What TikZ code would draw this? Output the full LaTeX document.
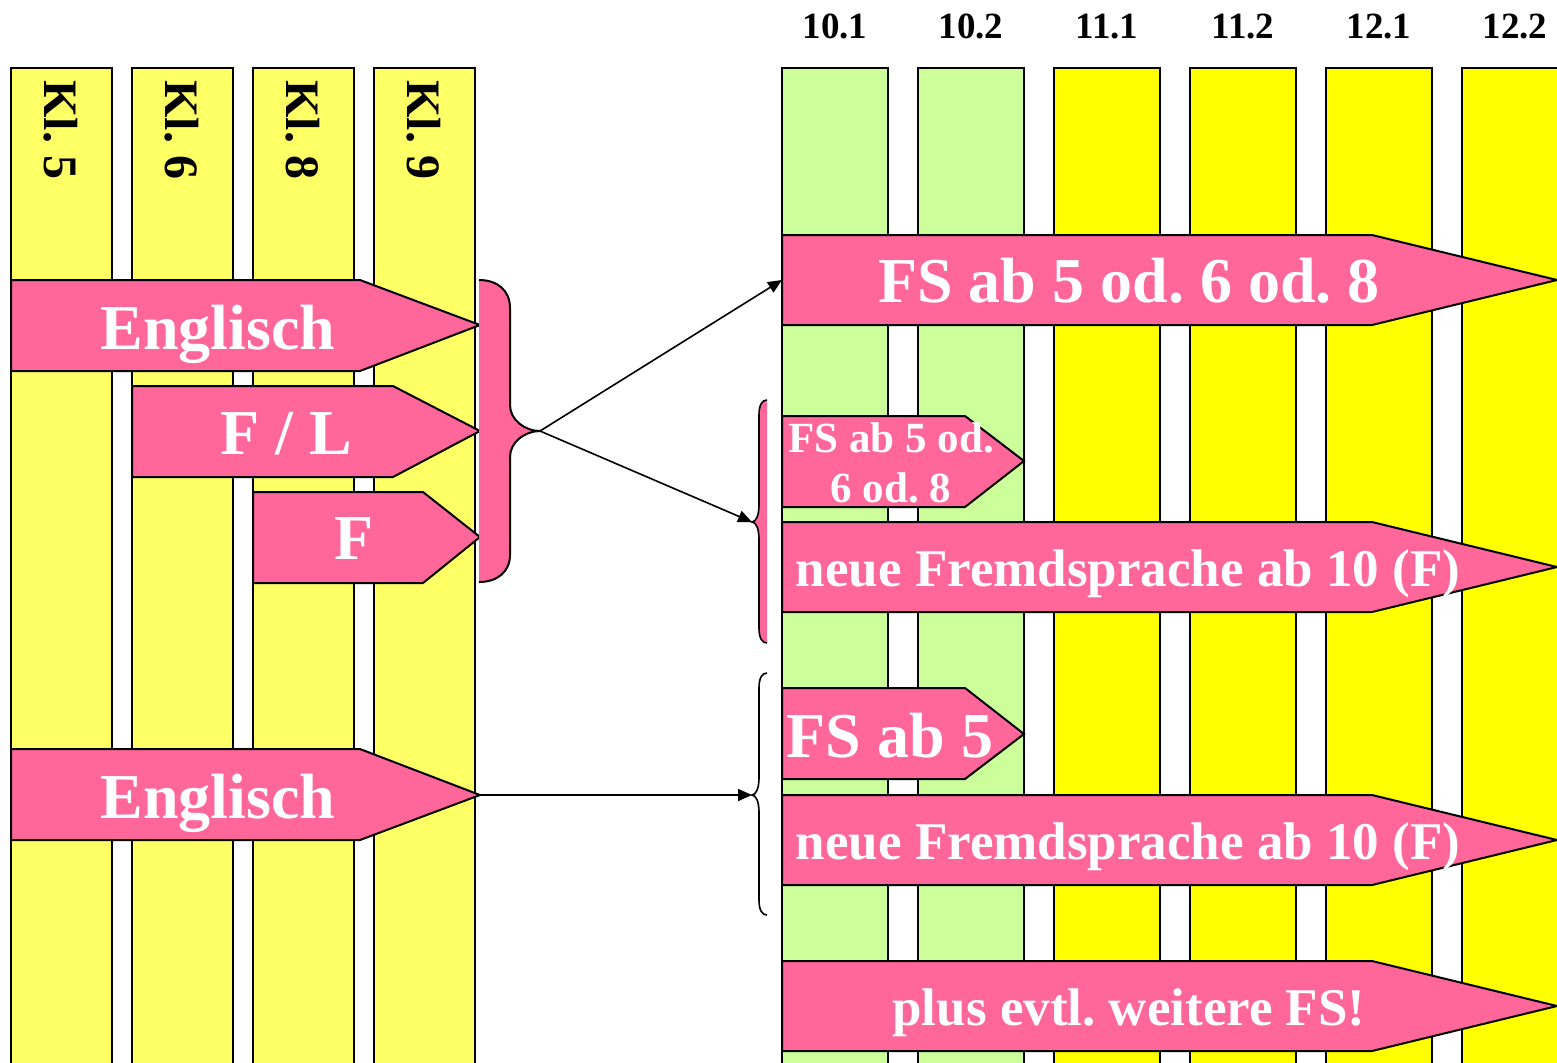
\documentclass[tikz,border=0pt]{standalone}
\usepackage{fontspec}
\setmainfont{Liberation Serif}
\usetikzlibrary{arrows.meta}
\definecolor{pinkF}{HTML}{FF6699}
\definecolor{ylwL}{HTML}{FFFF66}
\definecolor{grnL}{HTML}{CCFF99}
\definecolor{ylwS}{HTML}{FFFF00}
\frenchspacing
\begin{document}
\begin{tikzpicture}[x=0.5pt,y=-0.5pt,
  colL/.style={draw=black,line width=1pt,fill=ylwL},
  colG/.style={draw=black,line width=1pt,fill=grnL},
  colY/.style={draw=black,line width=1pt,fill=ylwS},
  pinkshape/.style={draw=black,line width=1pt,fill=pinkF,line join=miter},
  lbl/.style={text=white,inner sep=0pt,anchor=base},
  fbig/.style={font=\bfseries\fontsize{32}{36}\selectfont},
  fmid/.style={font=\bfseries\fontsize{26.5}{30}\selectfont},
  fsmall/.style={font=\bfseries\fontsize{21.5}{25}\selectfont,align=center},
  klbl/.style={font=\bfseries\fontsize{24}{28}\selectfont,rotate=-90,anchor=base west,inner sep=0pt},
  tlbl/.style={font=\bfseries\fontsize{18.5}{22}\selectfont,inner sep=0pt,anchor=base},
  con/.style={line width=0.8pt,-{Triangle[length=7pt,width=6pt]}}
]
\useasboundingbox (0,0) rectangle (1557,1062);
\clip (0,0) rectangle (1557,1062);

% left columns
\foreach \x/\t in {11/5,132/6,253/8,374/9}{
  \draw[colL] (\x,68) rectangle (\x+101,1080);
  \node[klbl] (kl\t) at (\x+33,80) {Kl. \t};
}
% right columns
\draw[colG] (782,68) rectangle (888,1080);
\draw[colG] (918,68) rectangle (1024,1080);
\draw[colY] (1054,68) rectangle (1160,1080);
\draw[colY] (1190,68) rectangle (1296,1080);
\draw[colY] (1326,68) rectangle (1432,1080);
\draw[colY] (1462,68) rectangle (1568,1080);
\node[tlbl] (t101) at (835,38) {10.1};
\node[tlbl] (t102) at (971,38) {10.2};
\node[tlbl] (t111) at (1107,38) {11.1};
\node[tlbl] (t112) at (1243,38) {11.2};
\node[tlbl] (t121) at (1379,38) {12.1};
\node[tlbl] (t122) at (1515,38) {12.2};

% left pink arrows
\draw[pinkshape] (11,280) -- (360,280) -- (480,325) -- (360,371) -- (11,371) -- cycle;
\node[lbl,fbig] (eng1) at (218,349) {Englisch};
\draw[pinkshape] (132,386) -- (393,386) -- (480,431) -- (393,477) -- (132,477) -- cycle;
\node[lbl,fbig] (fl) at (286,454) {F / L};
\draw[pinkshape] (253,492) -- (423,492) -- (480,537) -- (423,583) -- (253,583) -- cycle;
\node[lbl,fbig] (f) at (354,559) {F};
\draw[pinkshape] (11,749) -- (360,749) -- (480,795) -- (360,840) -- (11,840) -- cycle;
\node[lbl,fbig] (eng2) at (218,818) {Englisch};
\coordinate (eng2tip) at (480,795);

% big brace (filled)
\fill[pinkF] (479,280) .. controls (497,280) and (510,290) .. (510,308) -- (510,405)
  .. controls (510,420) and (525,431) .. (540,431)
  .. controls (525,431) and (510,442) .. (510,457) -- (510,555)
  .. controls (510,572) and (497,582) .. (479,582) -- cycle;
\draw[line width=1pt] (479,280) .. controls (497,280) and (510,290) .. (510,308) -- (510,405)
  .. controls (510,420) and (525,431) .. (540,431)
  .. controls (525,431) and (510,442) .. (510,457) -- (510,555)
  .. controls (510,572) and (497,582) .. (479,582);
\coordinate (brace1) at (540,431);

% small brace (filled)
\fill[pinkF] (767,400) .. controls (762,400) and (759,405) .. (759,415) -- (759,505)
  .. controls (759,515) and (756,522) .. (752,522)
  .. controls (756,522) and (759,529) .. (759,539) -- (759,628)
  .. controls (759,638) and (762,643) .. (767,643) -- cycle;
\draw[line width=0.8pt] (767,400) .. controls (762,400) and (759,405) .. (759,415) -- (759,505)
  .. controls (759,515) and (756,522) .. (752,522)
  .. controls (756,522) and (759,529) .. (759,539) -- (759,628)
  .. controls (759,638) and (762,643) .. (767,643);
\coordinate (brace2) at (752,522);

% lower brace (no fill)
\draw[line width=0.8pt] (767,673) .. controls (762,673) and (759,678) .. (759,688) -- (759,778)
  .. controls (759,788) and (756,795) .. (752,795)
  .. controls (756,795) and (759,802) .. (759,812) -- (759,900)
  .. controls (759,910) and (762,915) .. (767,915);
\coordinate (brace3) at (752,795);

% right pink arrows
\draw[pinkshape] (782,235) -- (1372,235) -- (1557,280) -- (1372,325) -- (782,325) -- cycle;
\node[lbl,fbig] (fs1) at (1129,302) {FS ab 5 od. 6 od. 8};
\coordinate (fs1left) at (782,280);

\draw[pinkshape] (782,416) -- (965,416) -- (1024,461) -- (965,507) -- (782,507) -- cycle;
\node[lbl,fsmall] (fs2) at (891,502) {FS ab 5 od.\\ 6 od. 8};

\draw[pinkshape] (782,522) -- (1372,522) -- (1557,567) -- (1372,612) -- (782,612) -- cycle;
\node[lbl,fmid] (neu1) at (1128,586) {neue Fremdsprache ab 10 (F)};

\draw[pinkshape] (782,688) -- (965,688) -- (1024,734) -- (965,779) -- (782,779) -- cycle;
\node[lbl,fbig] (fs3) at (890,757) {FS ab 5};

\draw[pinkshape] (782,795) -- (1372,795) -- (1557,840) -- (1372,885) -- (782,885) -- cycle;
\node[lbl,fmid] (neu2) at (1128,859) {neue Fremdsprache ab 10 (F)};

\draw[pinkshape] (782,961) -- (1372,961) -- (1557,1006) -- (1372,1051) -- (782,1051) -- cycle;
\node[lbl,fmid] (plus) at (1129,1025) {plus evtl. weitere FS!};

% connectors
\draw[con] (brace1) -- (fs1left);
\draw[con] (brace1) -- (brace2);
\draw[con] (eng2tip) -- (brace3);
\end{tikzpicture}
\end{document}
